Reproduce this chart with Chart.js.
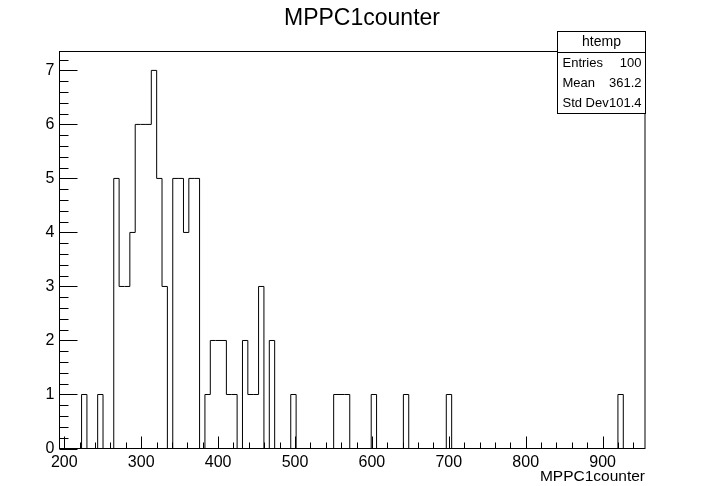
<!DOCTYPE html>
<html>
<head>
<meta charset="utf-8">
<script src="https://cdn.jsdelivr.net/npm/chart.js@4/dist/chart.umd.min.js"></script>
<style>
  html, body { margin: 0; padding: 0; background: #fff; }
  #wrap { width: 720px; height: 486px; }
</style>
</head>
<body>
<div id="wrap"><canvas id="histChart" width="720" height="486"></canvas></div>
<script>
// htemp : MPPC1counter, 101 bins
var binStart = 222.5;
var binWidth = 6.974;
var counts = [
  1, 0, 0, 1, 0, 0, 5, 3, 3, 4,
  6, 6, 6, 7, 5, 3, 0, 5, 5, 4,
  5, 5, 0, 1, 2, 2, 2, 1, 1, 0,
  2, 1, 1, 3, 0, 2, 0, 0, 0, 1,
  0, 0, 0, 0, 0, 0, 0, 1, 1, 1,
  0, 0, 0, 0, 1, 0, 0, 0, 0, 0,
  1, 0, 0, 0, 0, 0, 0, 0, 1, 0,
  0, 0, 0, 0, 0, 0, 0, 0, 0, 0,
  0, 0, 0, 0, 0, 0, 0, 0, 0, 0,
  0, 0, 0, 0, 0, 0, 0, 0, 0, 0,
  1
];
var xRange = [193.8, 955.1];
var yRange = [0, 7.35];
var xTicks = [200, 300, 400, 500, 600, 700, 800, 900];
var yTicks = [0, 1, 2, 3, 4, 5, 6, 7];
var statsName = 'htemp';
var statsLabels = ['Entries', 'Mean', 'Std Dev'];
var statsValues = ['100', '361.2', '101.4'];

var FONT = '"Liberation Sans", Arial, Helvetica, sans-serif';

// outline points for the stepped line (bin edges)
var points = [{x: binStart, y: 0}];
counts.forEach(function (c, i) {
  points.push({x: binStart + i * binWidth, y: c});
});
var xEnd = binStart + counts.length * binWidth;
points.push({x: xEnd, y: counts[counts.length - 1]});
points.push({x: xEnd, y: 0});

function seg(ctx, x1, y1, x2, y2) {
  ctx.beginPath();
  ctx.moveTo(x1, y1);
  ctx.lineTo(x2, y2);
  ctx.stroke();
}

// ROOT style frame, inward ticks, title and stats box
var rootFrame = {
  id: 'rootFrame',
  afterDatasetsDraw: function (chart) {
    var ctx = chart.ctx, a = chart.chartArea;
    var x = chart.scales.x, y = chart.scales.y;
    ctx.save();
    ctx.strokeStyle = '#000';
    ctx.lineWidth = 1;
    ctx.strokeRect(a.left, a.top, a.right - a.left, a.bottom - a.top);

    for (var v = 200; v <= xRange[1]; v += 20) {
      var px = Math.round(x.getPixelForValue(v)) + 0.5;
      var len = (v % 100 === 0) ? 12 : 6;
      seg(ctx, px, a.bottom, px, a.bottom - len);
    }
    for (var k = 0; k * 0.2 <= yRange[1]; k++) {
      var py = Math.round(y.getPixelForValue(k * 0.2)) + 0.5;
      var l = (k % 5 === 0) ? 18 : 9;
      seg(ctx, a.left, py, a.left + l, py);
    }
    ctx.restore();
  },
  afterDraw: function (chart) {
    var ctx = chart.ctx;
    ctx.save();
    ctx.fillStyle = '#000';
    ctx.textBaseline = 'middle';
    ctx.textAlign = 'center';
    ctx.font = '23px ' + FONT;
    ctx.fillText('MPPC1counter', 362, 19);

    // stats box
    var bx = 557.5, by = 31.5, bw = 88, bh = 82;
    ctx.fillStyle = '#fff';
    ctx.fillRect(bx, by, bw, bh);
    ctx.strokeStyle = '#000';
    ctx.lineWidth = 1;
    ctx.strokeRect(bx, by, bw, bh);
    seg(ctx, bx, 52.5, bx + bw, 52.5);
    ctx.fillStyle = '#000';
    ctx.font = '14px ' + FONT;
    ctx.fillText(statsName, bx + bw / 2, 42.5);
    ctx.font = '13px ' + FONT;
    statsLabels.forEach(function (lab, i) {
      var ty = 63 + i * 20.2;
      ctx.textAlign = 'left';
      ctx.fillText(lab, bx + 5, ty);
      ctx.textAlign = 'right';
      ctx.fillText(statsValues[i], bx + bw - 4, ty);
    });
    ctx.restore();
  }
};

var histChart = new Chart(document.getElementById('histChart'), {
  type: 'line',
  data: {
    datasets: [{
      data: points,
      stepped: 'before',
      borderColor: '#000',
      borderWidth: 1,
      pointRadius: 0,
      fill: false
    }]
  },
  options: {
    responsive: false,
    animation: false,
    devicePixelRatio: 1,
    layout: { padding: { left: 0, right: 75, top: 51.5, bottom: 0 } },
    plugins: {
      legend: { display: false },
      tooltip: { enabled: false }
    },
    scales: {
      x: {
        type: 'linear',
        min: xRange[0],
        max: xRange[1],
        afterBuildTicks: function (s) { s.ticks = xTicks.map(function (v) { return {value: v}; }); },
        afterFit: function (s) { s.height = 37.5; },
        grid: { display: false, drawTicks: false },
        border: { display: false },
        ticks: { color: '#000', font: { family: FONT, size: 16 }, padding: 4, maxRotation: 0, autoSkip: false },
        title: {
          display: true,
          text: 'MPPC1counter',
          align: 'end',
          color: '#000',
          font: { family: FONT, size: 15.5 },
          padding: { top: 0, bottom: 0 }
        }
      },
      y: {
        min: yRange[0],
        max: yRange[1],
        afterBuildTicks: function (s) { s.ticks = yTicks.map(function (v) { return {value: v}; }); },
        afterFit: function (s) { s.width = 59.5; },
        grid: { display: false, drawTicks: false },
        border: { display: false },
        ticks: { color: '#000', font: { family: FONT, size: 16 }, padding: 5, autoSkip: false }
      }
    }
  },
  plugins: [rootFrame]
});
</script>
</body>
</html>
